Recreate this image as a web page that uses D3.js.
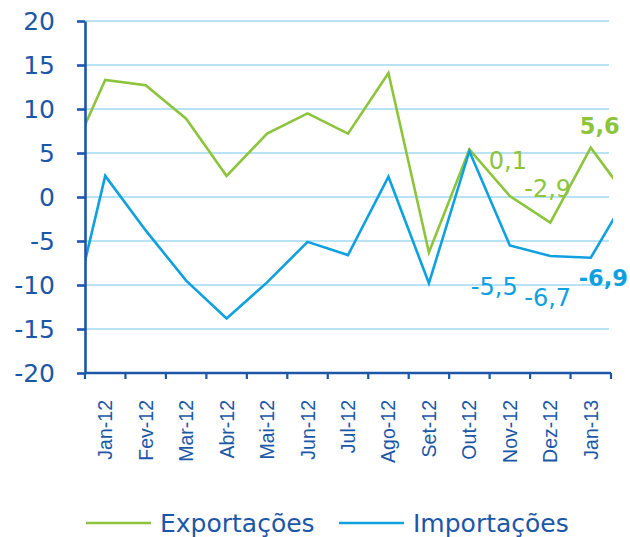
<!DOCTYPE html>
<html>
<head>
<meta charset="utf-8">
<script src="https://cdn.jsdelivr.net/npm/d3@7"></script>
<style>
  html, body { margin: 0; padding: 0; background: #fff; }
  svg { display: block; }
</style>
</head>
<body>
<div id="chart"></div>
<script>
// months incl. one before / after the visible window (lines run off the plot edges)
const months = ['Dez-11', 'Jan-12', 'Fev-12', 'Mar-12', 'Abr-12', 'Mai-12', 'Jun-12', 'Jul-12',
  'Ago-12', 'Set-12', 'Out-12', 'Nov-12', 'Dez-12', 'Jan-13', 'Fev-13'];
const visibleMonths = months.slice(1, 14);
const exportacoes = [3.1, 13.3, 12.7, 8.9, 2.4, 7.2, 9.5, 7.2, 14.1, -6.3, 5.4, 0.1, -2.9, 5.6, -0.6];
const importacoes = [-17.0, 2.4, -3.8, -9.5, -13.8, -9.7, -5.1, -6.6, 2.3, -9.8, 5.2, -5.5, -6.7, -6.9, 0.9];
const yTicks = [-20, -15, -10, -5, 0, 5, 10, 15, 20];
const seriesNames = ['Exportações', 'Importações'];
// value labels: which series / month gets its number printed
const labelled = [
  { s: 0, m: 'Nov-12' }, { s: 0, m: 'Dez-12' }, { s: 0, m: 'Jan-13', bold: true },
  { s: 1, m: 'Nov-12' }, { s: 1, m: 'Dez-12' }, { s: 1, m: 'Jan-13', bold: true }
];

const W = 630, H = 537;
const m = { l: 85, r: 19, t: 21, b: 164 };
const C = { ink: '#1c57a7', green: '#8cc43c', blue: '#0fa0e0', grid: '#b8e3f7' };
const font = '"DejaVu Sans", Verdana, sans-serif';

const bw = (W - m.r - m.l) / visibleMonths.length;
const x = d3.scaleBand().domain(months).range([m.l - bw, W - m.r + bw]);
const y = d3.scaleLinear().domain([-20, 20]).range([H - m.b, m.t]);
const cx = d => x(d) + x.bandwidth() / 2;

const svg = d3.select('#chart').append('svg').attr('width', W).attr('height', H);

// gridlines
svg.append('g').selectAll('line').data(yTicks.filter(v => v > -20)).join('line')
  .attr('x1', m.l).attr('x2', W - m.r - 2).attr('y1', d => y(d)).attr('y2', d => y(d))
  .attr('stroke', C.grid).attr('stroke-width', 2);

// lines, clipped to the plot width
svg.append('clipPath').attr('id', 'clip').append('rect')
  .attr('x', m.l).attr('y', 0).attr('width', W - m.r - m.l + 2).attr('height', H);
const line = d3.line().x((d, i) => cx(months[i])).y(d => y(d));
const plot = svg.append('g').attr('clip-path', 'url(#clip)');
[[exportacoes, C.green], [importacoes, C.blue]].forEach(([vals, col]) =>
  plot.append('path').datum(vals).attr('d', line).attr('fill', 'none')
    .attr('stroke', col).attr('stroke-width', 2.6).attr('stroke-linejoin', 'miter'));

// y axis
const ya = svg.append('g').attr('transform', `translate(${m.l},0)`)
  .call(d3.axisLeft(y).tickValues(yTicks).tickFormat(d => String(d))
    .tickSize(8).tickSizeOuter(0).tickPadding(22));
ya.select('.domain').attr('stroke', C.ink).attr('stroke-width', 2.6);
ya.selectAll('.tick line').attr('stroke', C.ink).attr('stroke-width', 2.6);
ya.selectAll('.tick text').attr('fill', C.ink).attr('font-family', font).attr('font-size', 25);

// x axis: ticks on month boundaries, labels in the middle
const xa = svg.append('g').attr('transform', `translate(0,${y(-20)})`);
xa.append('line').attr('x1', m.l).attr('x2', W - m.r).attr('stroke', C.ink).attr('stroke-width', 2.6);
xa.selectAll('line.tk').data([...visibleMonths.map(d => x(d)), x('Fev-13')]).join('line').attr('class', 'tk')
  .attr('x1', d => d).attr('x2', d => d).attr('y1', 0).attr('y2', 6)
  .attr('stroke', C.ink).attr('stroke-width', 2.2);
xa.selectAll('text').data(visibleMonths).join('text')
  .attr('transform', d => `translate(${cx(d)},27) rotate(-90)`)
  .attr('dy', '0.36em').attr('text-anchor', 'end')
  .attr('font-family', '"Liberation Sans", Arial, sans-serif').attr('font-size', 19.5)
  .attr('fill', C.ink).text(d => d);

// value labels
const fmt = v => String(v.toFixed(1)).replace('.', ',');
const labelPos = { // offsets from the point, in px: [dx, dy]
  '0Nov-12': [-21, -27], '0Dez-12': [-26, -26], '0Jan-13': [-11, -14],
  '1Nov-12': [-39, 50], '1Dez-12': [-26, 50], '1Jan-13': [-12, 28]
};
svg.append('g').selectAll('text').data(labelled).join('text')
  .attr('x', d => cx(d.m) + labelPos[d.s + d.m][0])
  .attr('y', d => y([exportacoes, importacoes][d.s][months.indexOf(d.m)]) + labelPos[d.s + d.m][1])
  .attr('font-family', font).attr('font-size', d => d.bold ? 22.5 : 24)
  .attr('font-weight', d => d.bold ? 'bold' : 'normal')
  .attr('fill', d => d.s ? C.blue : C.green)
  .text(d => fmt([exportacoes, importacoes][d.s][months.indexOf(d.m)]));

// legend
const leg = svg.append('g').attr('transform', `translate(0,523)`);
[[86, C.green, seriesNames[0]], [339, C.blue, seriesNames[1]]].forEach(([lx, col, name]) => {
  leg.append('line').attr('x1', lx).attr('x2', lx + 65).attr('stroke', col).attr('stroke-width', 2.6);
  leg.append('text').attr('x', lx + 74).attr('y', 8.5).attr('font-family', font).attr('font-size', 25)
    .attr('fill', C.ink).text(name);
});
</script>
</body>
</html>
